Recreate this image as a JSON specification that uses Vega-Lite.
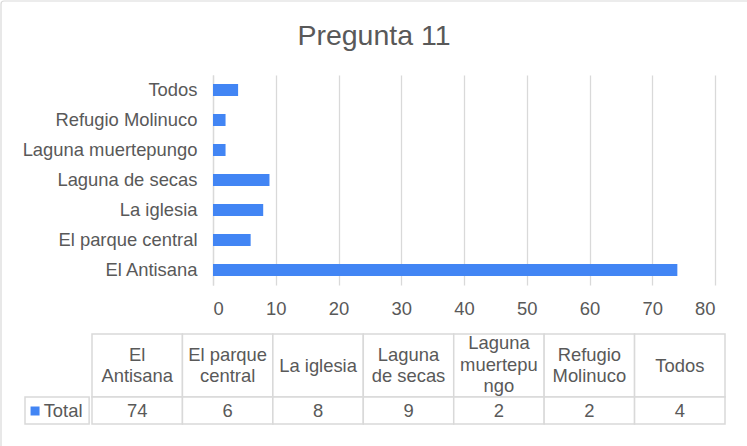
{
  "$schema": "https://vega.github.io/schema/vega-lite/v6.json",
  "width": 502,
  "height": 210,
  "autosize": {"type": "none"},
  "padding": {"left": 213, "top": 75, "right": 32, "bottom": 161},
  "background": "white",
  "config": {
    "view": {"stroke": null},
    "font": "Liberation Sans",
    "text": {"font": "Liberation Sans"}
  },
  "title": {
    "text": "Pregunta 11",
    "font": "Liberation Sans",
    "fontSize": 28.5,
    "fontWeight": "normal",
    "color": "#595959",
    "anchor": "middle",
    "frame": "group",
    "dx": -90,
    "offset": -50
  },
  "datasets": {
    "table": [
      {"cat": "El Antisana", "header": "El\nAntisana", "value": 74},
      {"cat": "El parque central", "header": "El parque\ncentral", "value": 6},
      {"cat": "La iglesia", "header": "La iglesia", "value": 8},
      {"cat": "Laguna de secas", "header": "Laguna\nde secas", "value": 9},
      {"cat": "Laguna muertepungo", "header": "Laguna\nmuertepu\nngo", "value": 2},
      {"cat": "Refugio Molinuco", "header": "Refugio\nMolinuco", "value": 2},
      {"cat": "Todos", "header": "Todos", "value": 4}
    ],
    "series": [{"series": "Total"}]
  },
  "layer": [
    {
      "data": {"name": "series"},
      "mark": {"type": "rect", "fillOpacity": 0, "stroke": "#d9d9d9", "strokeWidth": 1.2, "cornerRadius": 3},
      "encoding": {
        "x": {"datum": 0, "type": "quantitative", "scale": {"domain": [0, 1], "range": [-212, 539]}, "axis": null},
        "x2": {"datum": 1},
        "y": {"datum": 0, "type": "quantitative", "scale": {"domain": [0, 1], "range": [-74, 377]}, "axis": null},
        "y2": {"datum": 1}
      }
    },
    {
      "data": {"name": "table"},
      "mark": {"type": "bar", "color": "#4285F4"},
      "encoding": {
        "x": {
          "field": "value",
          "type": "quantitative",
          "scale": {"domain": [0, 80], "nice": false},
          "axis": {
            "title": null,
            "values": [0, 10, 20, 30, 40, 50, 60, 70, 80],
            "domain": false,
            "ticks": false,
            "tickSize": 0,
            "grid": true,
            "gridColor": "#d9d9d9",
            "gridWidth": 1.3,
            "labelFont": "Liberation Sans",
            "labelFontSize": 18.4,
            "labelColor": "#595959",
            "labelPadding": 14
          }
        },
        "y": {
          "field": "cat",
          "type": "nominal",
          "sort": ["Todos", "Refugio Molinuco", "Laguna muertepungo", "Laguna de secas", "La iglesia", "El parque central", "El Antisana"],
          "scale": {"paddingInner": 0.6, "paddingOuter": 0.3},
          "axis": {
            "title": null,
            "domain": true,
            "domainColor": "#d9d9d9",
            "domainWidth": 1.3,
            "ticks": false,
            "tickSize": 0,
            "labelFont": "Liberation Sans",
            "labelFontSize": 18.4,
            "labelColor": "#595959",
            "labelPadding": 16
          }
        }
      }
    },
    {
      "data": {"name": "table"},
      "encoding": {
        "x": {
          "field": "cat",
          "type": "nominal",
          "sort": null,
          "scale": {
            "domain": ["El Antisana", "El parque central", "La iglesia", "Laguna de secas", "Laguna muertepungo", "Refugio Molinuco", "Todos"],
            "range": [-121, 512],
            "paddingInner": 0,
            "paddingOuter": 0
          },
          "axis": null
        }
      },
      "layer": [
        {
          "mark": {"type": "rect", "fill": "white", "stroke": "#d9d9d9", "strokeWidth": 1.5},
          "encoding": {
            "y": {"datum": 0, "type": "quantitative", "scale": {"domain": [0, 90], "range": [259, 349]}, "axis": null},
            "y2": {"datum": 63}
          }
        },
        {
          "mark": {"type": "rect", "fill": "white", "stroke": "#d9d9d9", "strokeWidth": 1.5},
          "encoding": {
            "y": {"datum": 63, "type": "quantitative"},
            "y2": {"datum": 90}
          }
        },
        {
          "transform": [{"filter": "length(split(datum.header, '\\n')) == 1"}],
          "mark": {"type": "text", "fontSize": 18.4, "color": "#595959", "lineBreak": "\n", "lineHeight": 21.5, "baseline": "middle", "align": "center"},
          "encoding": {
            "y": {"datum": 31.5, "type": "quantitative"},
            "text": {"field": "header"}
          }
        },
        {
          "transform": [{"filter": "length(split(datum.header, '\\n')) == 2"}],
          "mark": {"type": "text", "fontSize": 18.4, "color": "#595959", "lineBreak": "\n", "lineHeight": 21.5, "baseline": "middle", "align": "center"},
          "encoding": {
            "y": {"datum": 20.75, "type": "quantitative"},
            "text": {"field": "header"}
          }
        },
        {
          "transform": [{"filter": "length(split(datum.header, '\\n')) == 3"}],
          "mark": {"type": "text", "fontSize": 18.4, "color": "#595959", "lineBreak": "\n", "lineHeight": 21.5, "baseline": "middle", "align": "center"},
          "encoding": {
            "y": {"datum": 9, "type": "quantitative"},
            "text": {"field": "header"}
          }
        },
        {
          "mark": {"type": "text", "fontSize": 18.4, "color": "#595959", "baseline": "middle", "align": "center"},
          "encoding": {
            "y": {"datum": 76.5, "type": "quantitative"},
            "text": {"field": "value", "type": "quantitative"}
          }
        }
      ]
    },
    {
      "data": {"name": "series"},
      "layer": [
        {
          "mark": {"type": "rect", "fill": "white", "stroke": "#d9d9d9", "strokeWidth": 1.5},
          "encoding": {
            "x": {"datum": 0, "type": "quantitative", "scale": {"domain": [0, 67], "range": [-188, -121]}, "axis": null},
            "x2": {"datum": 67},
            "y": {"datum": 63, "type": "quantitative", "scale": {"domain": [0, 90], "range": [259, 349]}, "axis": null},
            "y2": {"datum": 90}
          }
        },
        {
          "mark": {"type": "square", "filled": true, "color": "#4285F4", "size": 81, "opacity": 1},
          "encoding": {
            "x": {"datum": 10.5, "type": "quantitative"},
            "y": {"datum": 77, "type": "quantitative"}
          }
        },
        {
          "mark": {"type": "text", "fontSize": 18.4, "color": "#595959", "baseline": "middle", "align": "left"},
          "encoding": {
            "x": {"datum": 19.5, "type": "quantitative"},
            "y": {"datum": 76.5, "type": "quantitative"},
            "text": {"field": "series"}
          }
        }
      ]
    }
  ],
  "resolve": {"scale": {"x": "independent", "y": "independent"}}
}
